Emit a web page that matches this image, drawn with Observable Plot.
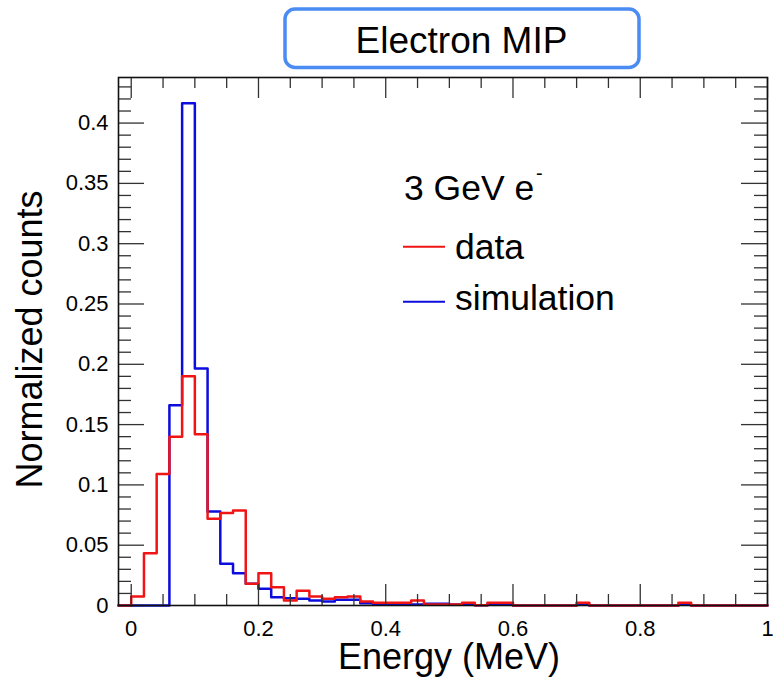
<!DOCTYPE html>
<html>
<head>
<meta charset="utf-8">
<script src="https://cdn.jsdelivr.net/npm/d3@7"></script>
<script src="https://cdn.jsdelivr.net/npm/@observablehq/plot@0.6"></script>
<style>
  html, body { margin: 0; padding: 0; background: white; }
  #chart { position: relative; width: 773px; height: 684px; }
</style>
</head>
<body>
<div id="chart"></div>
<script>
// ---- data ----
const binLeftEdges = [-0.02, 0.00, 0.02, 0.04, 0.06, 0.08, 0.10, 0.12, 0.14, 0.16,
  0.18, 0.20, 0.22, 0.24, 0.26, 0.28, 0.30, 0.32, 0.34, 0.36,
  0.38, 0.40, 0.42, 0.44, 0.46, 0.48, 0.50, 0.52, 0.54, 0.56,
  0.58, 0.60, 0.62, 0.64, 0.66, 0.68, 0.70, 0.72, 0.74, 0.76,
  0.78, 0.80, 0.82, 0.84, 0.86, 0.88, 0.90, 0.92, 0.94, 0.96, 0.98];
const histUpperEdge = 1.0;

const dataCounts = [0, 0.0075, 0.0434, 0.109, 0.140, 0.190, 0.142, 0.072, 0.0766, 0.0788,
  0.018, 0.0268, 0.0152, 0.0041, 0.0122, 0.0075, 0.0055, 0.0069, 0.0075, 0.0033,
  0.0022, 0.0022, 0.0022, 0.0041, 0.0008, 0.0008, 0.0008, 0.0022, 0.0003, 0.0022,
  0.0022, 0, 0, 0, 0, 0, 0.0022, 0, 0, 0,
  0, 0, 0, 0, 0.0022, 0, 0, 0, 0, 0, 0];

const simCounts = [0, 0, 0, 0, 0.166, 0.4165, 0.1965, 0.078, 0.0346, 0.0268,
  0.018, 0.0138, 0.0069, 0.006, 0.0055, 0.0041, 0.0033, 0.0047, 0.0047, 0.0019,
  0.0008, 0.0008, 0.0008, 0.0008, 0.0014, 0.0014, 0.0008, 0.0008, 0.0003, 0.0014,
  0.0008, 0, 0, 0, 0, 0, 0.0008, 0, 0, 0,
  0, 0, 0, 0, 0.0008, 0, 0, 0, 0, 0, 0];

const xLabelTicks = [0, 0.2, 0.4, 0.6, 0.8, 1.0];
const xMinorTicks = [0.05, 0.1, 0.15, 0.25, 0.3, 0.35, 0.45, 0.5, 0.55, 0.65, 0.7, 0.75, 0.85, 0.9, 0.95];
const yLabelTicks = [0, 0.05, 0.1, 0.15, 0.2, 0.25, 0.3, 0.35, 0.4];
const yMinorTicks = [0.01, 0.02, 0.03, 0.04, 0.06, 0.07, 0.08, 0.09, 0.11, 0.12, 0.13, 0.14,
  0.16, 0.17, 0.18, 0.19, 0.21, 0.22, 0.23, 0.24, 0.26, 0.27, 0.28, 0.29, 0.31, 0.32, 0.33, 0.34,
  0.36, 0.37, 0.38, 0.39, 0.41, 0.42, 0.43];

const titleText = "Electron MIP";
const xTitle = "Energy (MeV)";
const yTitle = "Normalized counts";
const legendHeader = "3 GeV e";
const seriesNames = ["data", "simulation"];
const seriesColors = ["#f01414", "#0c0cdc"];

// ---- build step tables ----
function stepTable(counts) {
  const t = binLeftEdges.map((x, i) => ({x, y: counts[i]}));
  t.push({x: histUpperEdge, y: counts[counts.length - 1]});
  return t;
}
const dataTable = stepTable(dataCounts);
const simTable = stepTable(simCounts);

const W = 773, H = 684;
const mL = 118, mR = 6, mT = 77, mB = 79;
const FW = W - mL - mR, FH = H - mT - mB;
const font = "'Liberation Sans', Arial, Helvetica, sans-serif";
const tickColor = "#333";

const fmt = d => String(+d.toFixed(2));

const plot = Plot.plot({
  width: W, height: H,
  marginLeft: mL, marginRight: mR, marginTop: mT, marginBottom: mB,
  style: {fontFamily: font, fontSize: "22px", background: "white", color: "black", overflow: "visible"},
  x: {domain: [-0.02, 1.0], label: null},
  y: {domain: [0, 0.4378], label: null},
  marks: [
    // histograms
    Plot.line(simTable, {x: "x", y: "y", curve: "step-after", stroke: seriesColors[1], strokeWidth: 2.5}),
    Plot.line(dataTable, {x: "x", y: "y", curve: "step-after", stroke: seriesColors[0], strokeWidth: 2.5}),
    // bottom ticks
    Plot.tickX(xLabelTicks, {x: d => d, insetTop: FH - 21, stroke: tickColor, strokeWidth: 1.3}),
    Plot.tickX(xMinorTicks, {x: d => d, insetTop: FH - 11, stroke: tickColor, strokeWidth: 1.3}),
    // top ticks
    Plot.tickX(xLabelTicks, {x: d => d, insetBottom: FH - 21, stroke: tickColor, strokeWidth: 1.3}),
    Plot.tickX(xMinorTicks, {x: d => d, insetBottom: FH - 11, stroke: tickColor, strokeWidth: 1.3}),
    // left ticks
    Plot.tickY(yLabelTicks, {y: d => d, insetRight: FW - 26, stroke: tickColor, strokeWidth: 1.3}),
    Plot.tickY(yMinorTicks, {y: d => d, insetRight: FW - 13, stroke: tickColor, strokeWidth: 1.3}),
    // right ticks
    Plot.tickY(yLabelTicks, {y: d => d, insetLeft: FW - 26, stroke: tickColor, strokeWidth: 1.3}),
    Plot.tickY(yMinorTicks, {y: d => d, insetLeft: FW - 13, stroke: tickColor, strokeWidth: 1.3}),
    // tick labels
    Plot.axisX(xLabelTicks, {tickSize: 0, tickPadding: 15, fontSize: 22, tickFormat: fmt, label: null}),
    Plot.axisY(yLabelTicks, {tickSize: 0, tickPadding: 10, fontSize: 22, tickFormat: fmt, label: null}),
    // axis titles
    Plot.text([xTitle], {text: d => d, frameAnchor: "bottom", textAnchor: "middle", lineAnchor: "middle",
      dy: 52, dx: 6, fontSize: 36, fill: "black"}),
    Plot.text([yTitle], {text: d => d, frameAnchor: "left", textAnchor: "middle", lineAnchor: "middle",
      rotate: -90, dx: -88, dy: -2, fontSize: 36, fill: "black"}),
    Plot.frame({stroke: "#111", strokeWidth: 1.6})
  ]
});

document.getElementById("chart").appendChild(plot);

// ---- title box and legend (annotations) ----
const svg = d3.select(plot);
const g = svg.append("g").attr("font-family", font).attr("text-anchor", "start");

g.append("rect")
  .attr("x", 285).attr("y", 9).attr("width", 354).attr("height", 58.5)
  .attr("rx", 10).attr("ry", 10)
  .attr("fill", "white").attr("stroke", "#4a8cf2").attr("stroke-width", 3.5);
g.append("text")
  .attr("x", 461.5).attr("y", 52.5).attr("text-anchor", "middle")
  .attr("font-size", 37).attr("fill", "black").text(titleText);

g.append("text").attr("x", 404).attr("y", 200).attr("font-size", 35.5).attr("fill", "black").text(legendHeader);
g.append("text").attr("x", 536).attr("y", 180).attr("font-size", 20).attr("fill", "black").text("-");

const legendRows = [{y: 246.7, base: 259}, {y: 301.7, base: 310}];
legendRows.forEach((r, i) => {
  g.append("line").attr("x1", 403).attr("x2", 445).attr("y1", r.y).attr("y2", r.y)
    .attr("stroke", seriesColors[i]).attr("stroke-width", 2);
  g.append("text").attr("x", 455).attr("y", r.base).attr("font-size", 35.5)
    .attr("fill", "black").text(seriesNames[i]);
});
</script>
</body>
</html>
